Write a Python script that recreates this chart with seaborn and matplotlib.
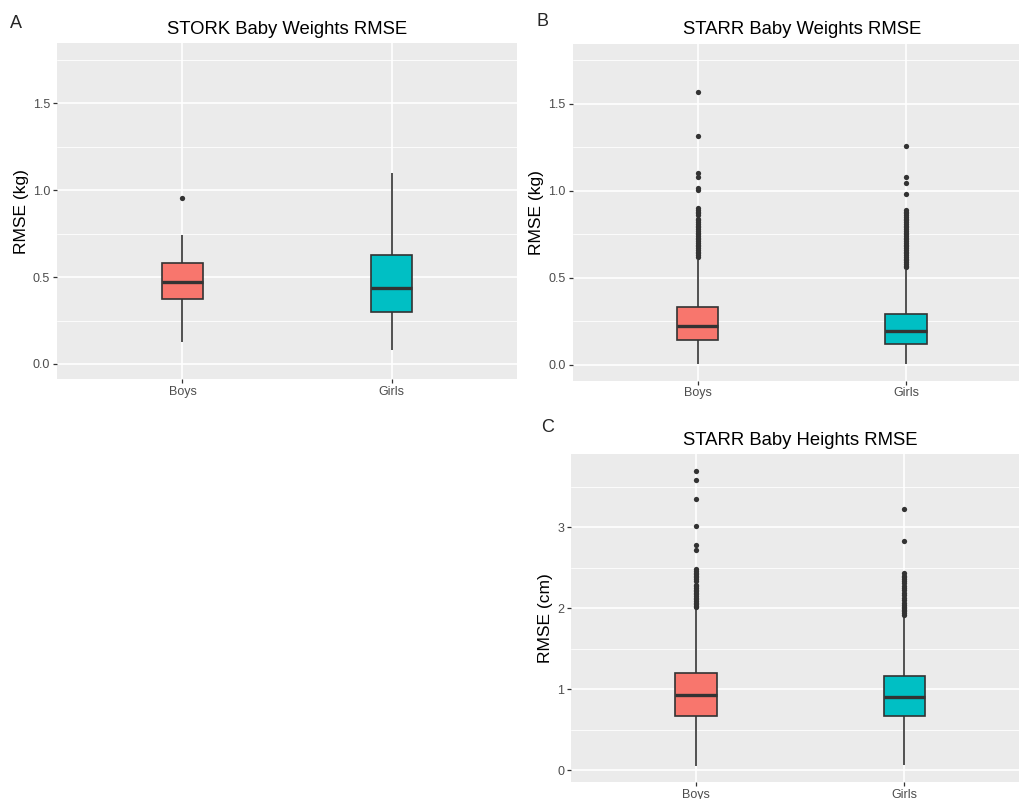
import matplotlib
matplotlib.use("Agg")
import matplotlib.pyplot as plt
import numpy as np
import pandas as pd
import seaborn as sns

# ---------------- data ----------------
sexes = ["Boys", "Girls"]
fill_colors = ["#F8766D", "#00BFC4"]

# five-number summaries: [lower whisker, Q1, median, Q3, upper whisker]
stork_weight_boys = [0.125, 0.376, 0.470, 0.579, 0.740]
stork_weight_girls = [0.081, 0.301, 0.436, 0.625, 1.100]
stork_weight_boys_outliers = [0.953]
stork_weight_girls_outliers = []

starr_weight_boys = [0.005, 0.140, 0.224, 0.330, 0.605]
starr_weight_girls = [0.005, 0.121, 0.197, 0.293, 0.545]
starr_weight_boys_outliers = [0.62, 0.63, 0.64, 0.65, 0.66, 0.67, 0.68, 0.69, 0.70,
                              0.71, 0.72, 0.73, 0.74, 0.75, 0.76, 0.77, 0.78, 0.79,
                              0.80, 0.81, 0.82, 0.83, 0.84, 0.86, 0.87, 0.88, 0.89,
                              0.90, 1.003, 1.018, 1.079, 1.102, 1.315, 1.569]
starr_weight_girls_outliers = [0.56, 0.57, 0.58, 0.59, 0.60, 0.61, 0.62, 0.63, 0.64,
                               0.65, 0.66, 0.67, 0.68, 0.69, 0.70, 0.71, 0.72, 0.73,
                               0.74, 0.75, 0.76, 0.77, 0.78, 0.79, 0.80, 0.81, 0.82,
                               0.83, 0.84, 0.85, 0.86, 0.87, 0.88, 0.89, 0.980,
                               1.047, 1.078, 1.258]

starr_height_boys = [0.049, 0.667, 0.923, 1.199, 1.990]
starr_height_girls = [0.062, 0.667, 0.902, 1.162, 1.895]
starr_height_boys_outliers = [2.01, 2.03, 2.05, 2.07, 2.09, 2.11, 2.13, 2.15, 2.17,
                              2.19, 2.21, 2.23, 2.25, 2.27, 2.29, 2.33, 2.36, 2.38,
                              2.40, 2.42, 2.44, 2.46, 2.48, 2.72, 2.78, 3.02, 3.346,
                              3.58, 3.696]
starr_height_girls_outliers = [1.92, 1.94, 1.96, 1.98, 2.00, 2.02, 2.04, 2.07, 2.10,
                               2.13, 2.16, 2.19, 2.22, 2.25, 2.28, 2.31, 2.34, 2.36,
                               2.38, 2.40, 2.43, 2.83, 3.23]

panel_titles = ["STORK Baby Weights RMSE", "STARR Baby Weights RMSE",
                "STARR Baby Heights RMSE"]
panel_letters = ["A", "B", "C"]
y_labels = ["RMSE (kg)", "RMSE (kg)", "RMSE (cm)"]
weight_ticks = [0.0, 0.5, 1.0, 1.5]
weight_ticklabels = ["0.0", "0.5", "1.0", "1.5"]
height_ticks = [0, 1, 2, 3]
height_ticklabels = ["0", "1", "2", "3"]


def build_sample(stats, outliers):
    """Sample whose box-plot statistics equal the read five-number summary."""
    lo, q1, med, q3, hi = stats
    return [lo] + [q1] * 100 + [med] * 100 + [q3] * 100 + [hi] + list(outliers)


def make_frame(boys, boys_out, girls, girls_out):
    b = build_sample(boys, boys_out)
    g = build_sample(girls, girls_out)
    return pd.DataFrame({"sex": ["Boys"] * len(b) + ["Girls"] * len(g),
                         "value": b + g})


# ---------------- figure ----------------
sns.set_theme(style="darkgrid")
plt.rcParams["font.family"] = ["Liberation Sans", "DejaVu Sans"]

W, H = 1019, 799
fig = plt.figure(figsize=(W / 100, H / 100), dpi=100)


def px_axes(left, top, right, bottom):
    return fig.add_axes([left / W, 1 - bottom / H, (right - left) / W, (bottom - top) / H])


axA = px_axes(57, 43.3, 517, 379)
axB = px_axes(572.5, 44, 1031, 380.5)
axC = px_axes(571, 454.3, 1029.5, 782)

frames = [
    make_frame(stork_weight_boys, stork_weight_boys_outliers,
               stork_weight_girls, stork_weight_girls_outliers),
    make_frame(starr_weight_boys, starr_weight_boys_outliers,
               starr_weight_girls, starr_weight_girls_outliers),
    make_frame(starr_height_boys, starr_height_boys_outliers,
               starr_height_girls, starr_height_girls_outliers),
]
ylims = [(-0.0863, 1.845), (-0.09, 1.843), (-0.145, 3.90)]
ticks = [(weight_ticks, weight_ticklabels), (weight_ticks, weight_ticklabels),
         (height_ticks, height_ticklabels)]
minors = [[0.25, 0.75, 1.25, 1.75], [0.25, 0.75, 1.25, 1.75], [0.5, 1.5, 2.5, 3.5]]

for ax, df, title, ylab, ylim, (tk, tl), mn in zip(
        [axA, axB, axC], frames, panel_titles, y_labels, ylims, ticks, minors):
    ax.set_facecolor("#EBEBEB")
    sns.boxplot(data=df, x="sex", y="value", hue="sex", order=sexes,
                hue_order=sexes, palette=fill_colors, saturation=1, width=0.2,
                linecolor="#333333", linewidth=1.2, showcaps=False,
                fliersize=3.8,
                flierprops=dict(marker="o", markerfacecolor="#333333",
                                markeredgecolor="#333333", markeredgewidth=0),
                medianprops=dict(linewidth=2.4, color="#333333"),
                legend=False, ax=ax)
    ax.set_xlim(-0.6, 1.6)
    ax.set_ylim(*ylim)
    ax.set_yticks(tk)
    ax.set_yticklabels(tl)
    ax.set_yticks(mn, minor=True)
    ax.set_axisbelow(True)
    ax.grid(which="major", color="white", linewidth=1.2)
    ax.grid(which="minor", axis="y", color="white", linewidth=0.6)
    for s in ax.spines.values():
        s.set_visible(False)
    ax.tick_params(which="major", left=True, bottom=True, length=2.75,
                   width=0.9, color="#333333", labelcolor="#4D4D4D",
                   labelsize=9, pad=2.2)
    ax.tick_params(which="minor", left=False, bottom=False, length=0)
    ax.set_xlabel("")
    ax.set_ylabel(ylab, fontsize=12.5, color="black", labelpad=3)
    ax.set_title(title, fontsize=13.3, color="black", pad=7)

fig.text(10 / W, 1 - 23 / H, "A", fontsize=13, ha="left", va="center")
fig.text(536 / W, 1 - 21 / H, "B", fontsize=13, ha="left", va="center")
fig.text(541 / W, 1 - 428 / H, "C", fontsize=13, ha="left", va="center")

fig.savefig("out.png", dpi=100)
